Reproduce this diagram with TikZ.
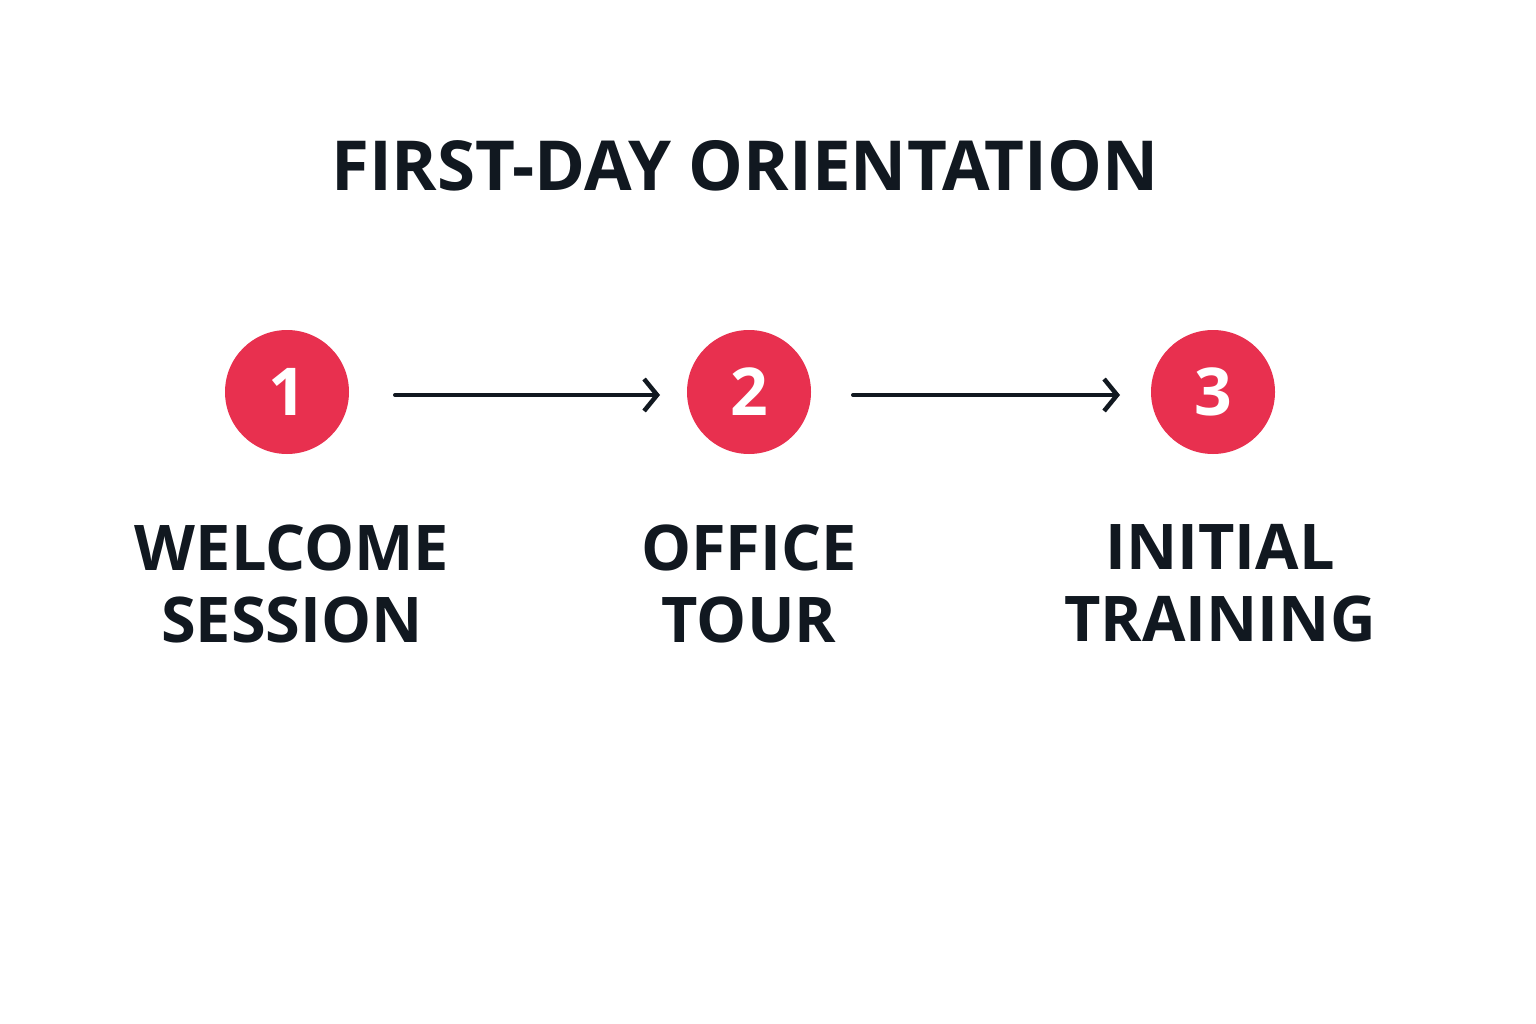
\documentclass[tikz,border=0pt]{standalone}
\usepackage{fontspec}
\setmainfont{Open Sans}
\usetikzlibrary{arrows.meta}
\definecolor{stepred}{HTML}{E8304F}
\definecolor{ink}{HTML}{111820}
\begin{document}
\begin{tikzpicture}[x=1pt,y=-1pt,
  stepcircle/.style={circle,fill=stepred,minimum size=124pt,inner sep=0pt,text=white,font=\fontsize{66}{66}\selectfont\bfseries},
  label/.style={text=ink,align=center,font=\fontsize{63}{72}\selectfont\bfseries,anchor=north},
  conn/.style={draw=ink,line width=4pt,line cap=round,-{Straight Barb[length=13pt,width=32pt,line width=4.5pt]}}]
\useasboundingbox[fill=white] (0,0) rectangle (1536,1024);
\node[text=ink,font=\fontsize{69}{69}\selectfont\bfseries] (title) at (745,166) {FIRST-DAY ORIENTATION};
\node[stepcircle] (c1) at (287,392) {1};
\node[stepcircle] (c2) at (749,392) {2};
\node[stepcircle] (c3) at (1213,392) {3};
\coordinate (a1s) at (395,395); \coordinate (a1e) at (660,395);
\coordinate (a2s) at (853,395); \coordinate (a2e) at (1120,395);
\draw[conn] (a1s) -- (a1e);
\draw[conn] (a2s) -- (a2e);
\node[label] (l1) at (292,521) {WELCOME\\SESSION};
\node[label] (l2) at (749,521) {OFFICE\\TOUR};
\node[label] (l3) at (1220,521) {INITIAL\\TRAINING};
\end{tikzpicture}
\end{document}
